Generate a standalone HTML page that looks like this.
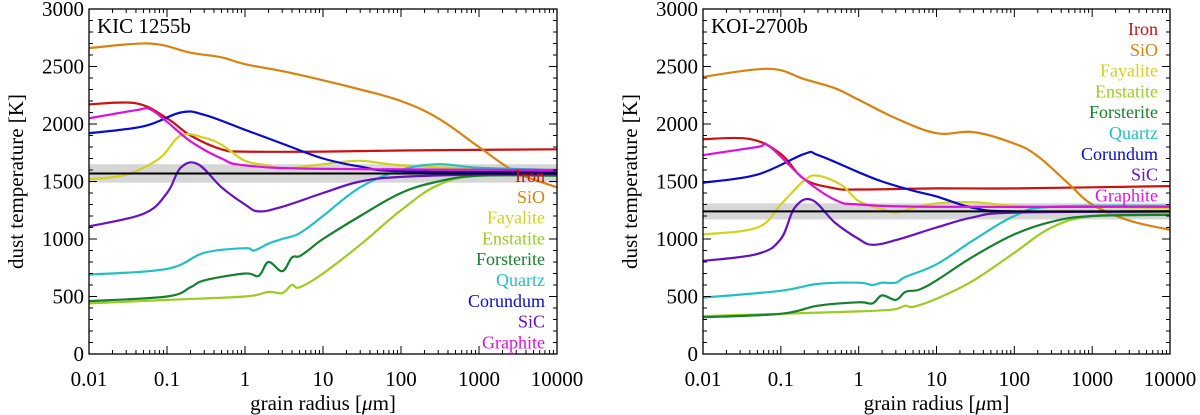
<!DOCTYPE html>
<html><head><meta charset="utf-8"><style>
html,body{margin:0;padding:0;background:#fff;}
svg{display:block;}
svg text{font-family:"Liberation Serif","Times New Roman",Times,"DejaVu Serif",serif;}
</style></head><body>
<svg id="chart" width="1200" height="415"></svg>
<script>
const names=["Iron","SiO","Fayalite","Enstatite","Forsterite","Quartz","Corundum","SiC","Graphite"];
const colors=["#cc1111","#d9820f","#d2d21e","#9ccc22","#16802e","#22c0c0","#0a0acc","#6611c4","#dd11dd"];
const yTicks=[0,500,1000,1500,2000,2500,3000];
const xTicks=[0.01,0.1,1,10,100,1000,10000];
const xTickLabels=["0.01","0.1","1","10","100","1000","10000"];
// panel A: KIC 1255b
const aIronX=[0.01,0.04,0.1,0.2,0.5,1,10,100,10000];
const aIronY=[2170,2180,2050,1900,1780,1760,1760,1770,1780];
const aSiOX=[0.01,0.06,0.2,0.5,1,3,10,30,100,300,1000,3000,10000];
const aSiOY=[2660,2700,2620,2580,2520,2460,2380,2300,2200,2050,1800,1580,1450];
const aFayX=[0.01,0.03,0.08,0.15,0.3,0.5,1,2,3,10,30,100,1000,10000];
const aFayY=[1520,1560,1700,1900,1880,1820,1680,1640,1610,1650,1680,1640,1610,1600];
const aEnsX=[0.01,0.1,1,2,3,4,5,10,30,100,300,1000,10000];
const aEnsY=[440,470,500,540,530,600,580,700,950,1250,1470,1550,1560];
const aForX=[0.01,0.1,0.2,0.3,1,1.5,2,3,4,5,7,10,30,100,300,1000,10000];
const aForY=[460,500,580,640,700,680,800,720,840,850,920,1000,1200,1400,1500,1550,1550];
const aQuaX=[0.01,0.1,0.3,1,1.3,2,3,5,10,30,100,300,1000,10000];
const aQuaY=[690,740,880,920,900,960,1000,1050,1200,1450,1600,1650,1620,1600];
const aCorX=[0.01,0.05,0.15,0.3,1,3,10,30,100,10000];
const aCorY=[1920,1980,2100,2080,1950,1830,1700,1630,1590,1580];
const aSiCX=[0.01,0.05,0.1,0.15,0.25,0.5,1,1.5,3,10,30,100,1000,10000];
const aSiCY=[1110,1220,1400,1620,1650,1450,1300,1240,1280,1400,1500,1540,1560,1560];
const aGraX=[0.01,0.04,0.06,0.1,0.2,0.5,1,10,10000];
const aGraY=[2050,2120,2130,2020,1850,1700,1640,1610,1600];
const aBand=[1490,1570,1650];
// panel B: KOI-2700b
const bIronX=[0.01,0.04,0.1,0.2,0.5,1,10,100,10000];
const bIronY=[1868,1870,1740,1520,1440,1430,1440,1440,1460];
const bSiOX=[0.01,0.07,0.2,0.5,1,3,10,30,100,200,500,1000,3000,10000];
const bSiOY=[2410,2480,2390,2310,2210,2050,1920,1930,1830,1720,1480,1300,1160,1080];
const bFayX=[0.01,0.05,0.1,0.2,0.3,0.6,1,2,3,5,10,30,100,1000,10000];
const bFayY=[1040,1100,1300,1510,1550,1470,1330,1260,1230,1270,1310,1320,1290,1280,1270];
const bEnsX=[0.01,0.1,1,2,3,4,5,10,30,100,300,1000,10000];
const bEnsY=[330,350,370,380,390,420,410,480,640,880,1100,1200,1230];
const bForX=[0.01,0.1,0.3,1,1.5,2,3,4,6,10,30,100,300,1000,10000];
const bForY=[320,350,420,450,440,510,470,540,560,640,850,1040,1150,1200,1210];
const bQuaX=[0.01,0.1,0.3,1,1.5,2,3,4,10,30,100,300,10000];
const bQuaY=[490,550,610,620,600,620,620,670,780,990,1200,1280,1290];
const bCorX=[0.01,0.05,0.2,0.3,1,2,5,10,30,100,10000];
const bCorY=[1490,1560,1740,1730,1580,1500,1420,1370,1270,1240,1240];
const bSiCX=[0.01,0.05,0.1,0.15,0.25,0.5,1,1.5,3,10,30,100,10000];
const bSiCY=[810,870,1000,1270,1340,1140,1000,950,990,1100,1190,1230,1240];
const bGraX=[0.01,0.05,0.07,0.2,0.5,1,10,10000];
const bGraY=[1730,1800,1810,1520,1340,1300,1280,1280];
const bBand=[1170,1240,1310];

const NS="http://www.w3.org/2000/svg";
const svg=document.getElementById('chart');
function mk(tag,attrs,parent){const e=document.createElementNS(NS,tag);for(const k in attrs)e.setAttribute(k,attrs[k]);(parent||svg).appendChild(e);return e;}

function smooth(pts){
  let d='M'+pts[0][0].toFixed(1)+','+pts[0][1].toFixed(1);
  for(let i=0;i<pts.length-1;i++){
    const p0=pts[i-1]||pts[i],p1=pts[i],p2=pts[i+1],p3=pts[i+2]||p2;
    const t=0.18;
    const c1=[p1[0]+(p2[0]-p0[0])*t,p1[1]+(p2[1]-p0[1])*t];
    const c2=[p2[0]-(p3[0]-p1[0])*t,p2[1]-(p3[1]-p1[1])*t];
    d+='C'+c1[0].toFixed(1)+','+c1[1].toFixed(1)+' '+c2[0].toFixed(1)+','+c2[1].toFixed(1)+' '+p2[0].toFixed(1)+','+p2[1].toFixed(1);
  }
  return d;
}

function panel(cfg){
  const L=cfg.x0,R=cfg.x1,T=9,B=354;
  const sx=v=>L+(Math.log10(v)+2)/6*(R-L);
  const sy=v=>B-v/3000*(B-T);
  const g=mk('g',{});
  
  
  const band=mk('rect',{x:L,y:sy(cfg.band[2]),width:R-L,height:sy(cfg.band[0])-sy(cfg.band[2]),fill:'#d6d6d6'},g);
  
  
  const clip=mk('clipPath',{id:'clip'+cfg.id},g);
  mk('rect',{x:L,y:T,width:R-L,height:B-T},clip);
  cfg.series.forEach((s,i)=>{
    const pts=s[0].map((x,j)=>[sx(x),sy(s[1][j])]);
    const p=mk('path',{d:smooth(pts),fill:'none',stroke:colors[i],'stroke-width':2.2,'stroke-linejoin':'round','clip-path':'url(#clip'+cfg.id+')'},g);
    
    
  });
  const hl=mk('line',{x1:L,x2:R,y1:sy(cfg.band[1]),y2:sy(cfg.band[1]),stroke:'#000','stroke-width':2},g);
  
  
  mk('rect',{x:L,y:T,width:R-L,height:B-T,fill:'none',stroke:'#000','stroke-width':1.3},g);
  for(let v=0;v<=3000;v+=100){
    const y=sy(v),len=(v%500===0)?8:4;
    mk('line',{x1:L,x2:L+len,y1:y,y2:y,stroke:'#000','stroke-width':1},g);
    mk('line',{x1:R,x2:R-len,y1:y,y2:y,stroke:'#000','stroke-width':1},g);
  }
  yTicks.forEach(v=>{
    const t=mk('text',{x:L-5,y:sy(v)+7,'text-anchor':'end','font-size':21},g);
    t.textContent=v;
    
    
  });
  for(let e=-2;e<4;e++){for(let m=1;m<10;m++){
    const x=sx(m*Math.pow(10,e)),len=m===1?8:4;
    mk('line',{x1:x,x2:x,y1:B,y2:B-len,stroke:'#000','stroke-width':1},g);
    mk('line',{x1:x,x2:x,y1:T,y2:T+len,stroke:'#000','stroke-width':1},g);
  }}
  xTicks.forEach((v,i)=>{
    const t=mk('text',{x:sx(v),y:386,'text-anchor':'middle','font-size':21},g);
    t.textContent=xTickLabels[i];
    
    
  });
  const xl=mk('text',{x:(L+R)/2,y:410,'text-anchor':'middle','font-size':21},g);
  xl.innerHTML='grain radius [<tspan font-style="italic">μ</tspan>m]';
  
  
  const yl=mk('text',{x:0,y:0,'text-anchor':'middle','font-size':21,transform:'translate('+(L-66)+','+((T+B)/2)+') rotate(-90)'},g);
  yl.textContent='dust temperature [K]';
  
  
  const ti=mk('text',{x:L+8,y:33,'font-size':21},g);
  ti.textContent=cfg.title;
  
  
  names.forEach((n,i)=>{
    const t=mk('text',{x:R-12,y:cfg.legY+i*20.8,'text-anchor':'end','font-size':18,fill:colors[i]},g);
    t.textContent=n;
    
    
  });
}
panel({id:'kic',title:'KIC 1255b',x0:89,x1:557,legY:182,band:aBand,series:[[aIronX,aIronY],[aSiOX,aSiOY],[aFayX,aFayY],[aEnsX,aEnsY],[aForX,aForY],[aQuaX,aQuaY],[aCorX,aCorY],[aSiCX,aSiCY],[aGraX,aGraY]]});
panel({id:'koi',title:'KOI-2700b',x0:703,x1:1170,legY:35,band:bBand,series:[[bIronX,bIronY],[bSiOX,bSiOY],[bFayX,bFayY],[bEnsX,bEnsY],[bForX,bForY],[bQuaX,bQuaY],[bCorX,bCorY],[bSiCX,bSiCY],[bGraX,bGraY]]});
</script>
</body></html>
